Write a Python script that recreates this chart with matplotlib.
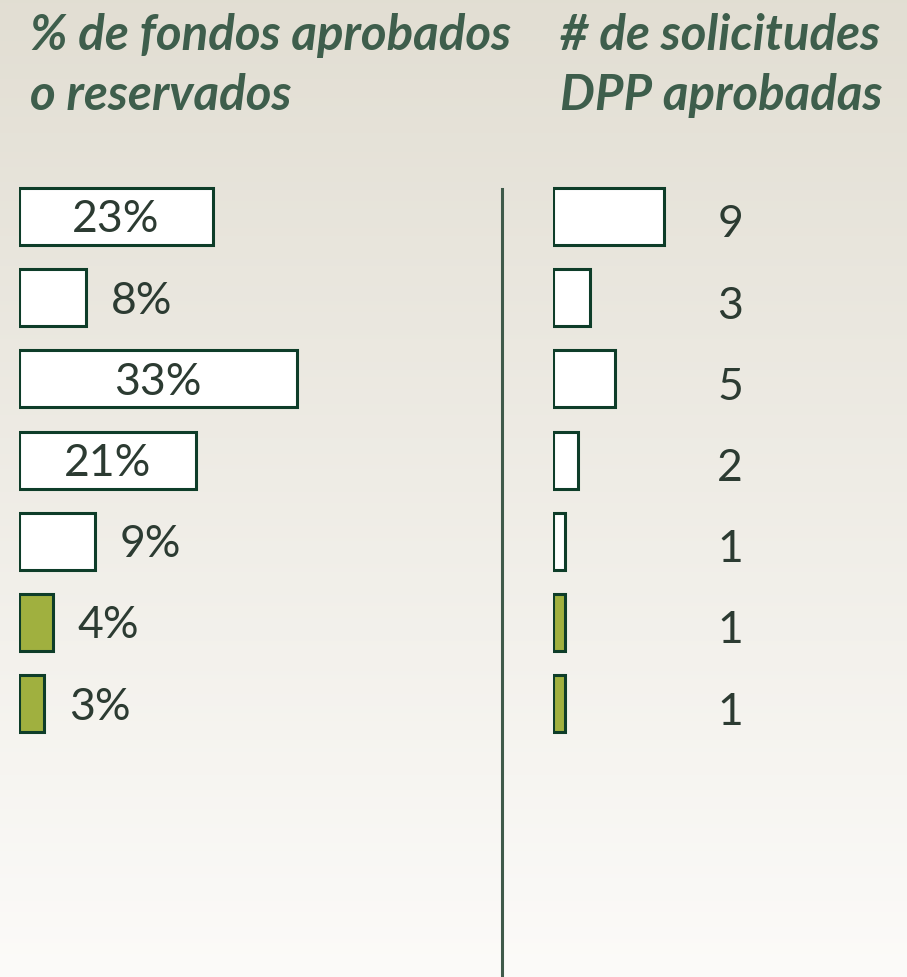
import numpy as np
import matplotlib.pyplot as plt
from matplotlib.lines import Line2D

# data
pct_values = [23, 8, 33, 21, 9, 4, 3]
pct_labels = ["23%", "8%", "33%", "21%", "9%", "4%", "3%"]
count_values = [9, 3, 5, 2, 1, 1, 1]
count_labels = ["9", "3", "5", "2", "1", "1", "1"]
highlight = [False, False, False, False, False, True, True]
label_inside = [True, False, True, True, False, False, False]

title_left = ["% de fondos aprobados", "o reservados"]
title_right = ["# de solicitudes", "DPP aprobadas"]

# styles
W, H = 907, 978
title_color = "#3e5e4c"
text_color = "#2c3b32"
edge_color = "#0e3d29"
olive = "#a0b03f"
white = "#ffffff"

fig = plt.figure(figsize=(W / 100, H / 100), dpi=100)

# background gradient
bg = fig.add_axes([0, 0, 1, 1])
top = np.array([0.886, 0.871, 0.827])
bot = np.array([0.988, 0.984, 0.976])
t = np.linspace(0, 1, 256)[:, None]
grad = top * (1 - t) + bot * t
bg.imshow(grad[:, None, :], aspect="auto", extent=[0, 1, 0, 1])
bg.set_axis_off()

# row geometry (pixels)
row0 = 217.5
row_step = 81.2
bar_h = 57 / row_step
n = len(pct_values)
rows = np.arange(n)
ylim = ((H - row0) / row_step, -row0 / row_step)


def make_ax(x0_px, x1_px, px_per_unit):
    ax = fig.add_axes([x0_px / W, 0, (x1_px - x0_px) / W, 1])
    ax.set_xlim(0, (x1_px - x0_px) / px_per_unit)
    ax.set_ylim(*ylim)
    ax.set_axis_off()
    ax.patch.set_alpha(0)
    return ax


ax_l = make_ax(19, 500, 8.42)
ax_r = make_ax(553, W, 12.3)

fills = [olive if h else white for h in highlight]
num_font = dict(family="Lato", fontsize=32, color=text_color)

ax_l.barh(rows, pct_values, height=bar_h, left=0, color=fills,
          edgecolor=edge_color, linewidth=2.2)
for i, (v, lab, inside) in enumerate(zip(pct_values, pct_labels, label_inside)):
    if inside:
        ax_l.text(v / 2, i + 0.03, lab, ha="center", va="center", **num_font)
    else:
        ax_l.annotate(lab, (v, i + 0.03), xytext=(18, 0), textcoords="offset points",
                      ha="left", va="center", **num_font)

ax_r.barh(rows, count_values, height=bar_h, left=0, color=fills,
          edgecolor=edge_color, linewidth=2.2)
for i, lab in enumerate(count_labels):
    ax_r.text(14.4, i + 0.09, lab, ha="center", va="center", **num_font)

# divider
fig.add_artist(Line2D([502 / W, 502 / W], [0, 1 - 190 / H],
                      color="#3f5a4a", linewidth=2.2))

# titles
title_font = dict(family="Lato", fontsize=35.5, fontweight="bold",
                  fontstyle="italic", color=title_color)
for k, (a, b) in enumerate(zip(title_left, title_right)):
    yb = 1 - (50 + 60 * k) / H
    fig.text(30 / W, yb, a, ha="left", va="baseline", **title_font)
    fig.text(560 / W, yb, b, ha="left", va="baseline", **title_font)

fig.savefig("out.png", dpi=100)
